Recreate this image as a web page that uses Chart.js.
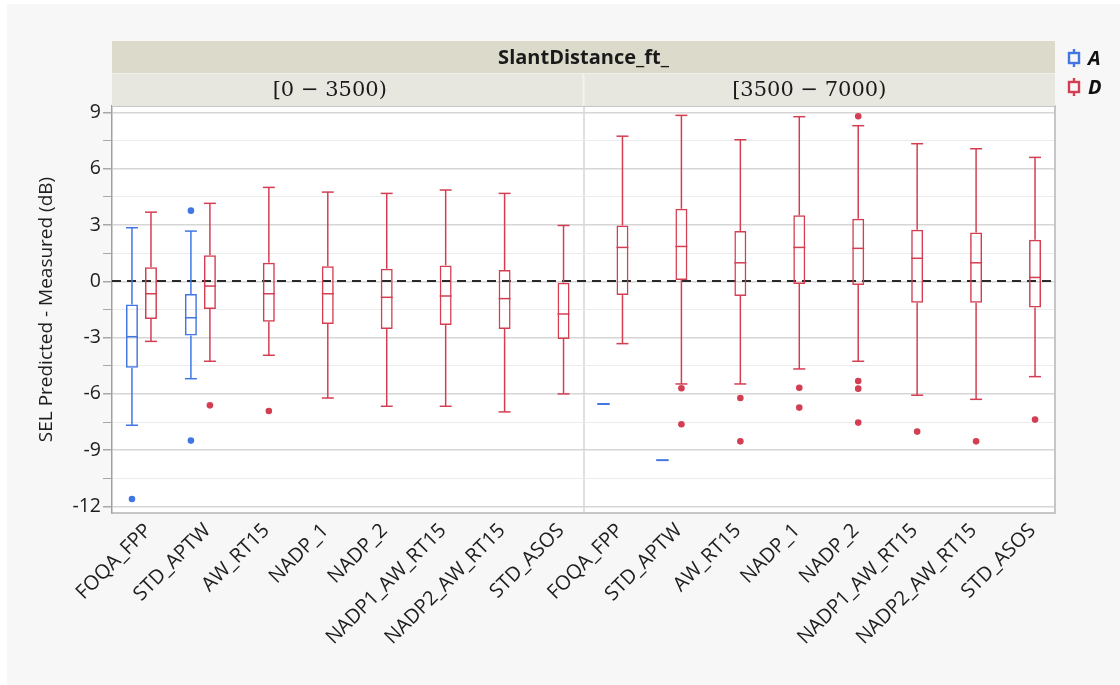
<!DOCTYPE html>
<html><head><meta charset="utf-8">
<script src="https://cdn.jsdelivr.net/npm/chart.js@4/dist/chart.umd.min.js"></script>
<style>html,body{margin:0;padding:0;background:#fff;}canvas{display:block}</style>
</head><body>
<canvas id="c" width="1120" height="685"></canvas>
<script>
// ---------- data ----------
const groupTitle = 'SlantDistance_ft_';
const panels = ['[0 \u2212 3500)', '[3500 \u2212 7000)'];
const methods = ['FOQA_FPP','STD_APTW','AW_RT15','NADP_1','NADP_2','NADP1_AW_RT15','NADP2_AW_RT15','STD_ASOS'];
const seriesNames = ['A','D'];
const yTicks = [-12,-9,-6,-3,0,3,6,9];
const yTitle = 'SEL Predicted - Measured (dB)';

// series A (16 slots: 8 methods x 2 panels)
const aMin = [-7.67,-5.19,null,null,null,null,null,null, -6.54,-9.54,null,null,null,null,null,null];
const aQ1  = [-4.60,-2.88,null,null,null,null,null,null, -6.54,-9.54,null,null,null,null,null,null];
const aMed = [-2.95,-1.94,null,null,null,null,null,null, -6.54,-9.54,null,null,null,null,null,null];
const aQ3  = [-1.23,-0.67,null,null,null,null,null,null, -6.54,-9.54,null,null,null,null,null,null];
const aMax = [ 2.86, 2.68,null,null,null,null,null,null, -6.54,-9.54,null,null,null,null,null,null];
const aOut = [[-11.6],[3.77,-8.49],[],[],[],[],[],[], [],[],[],[],[],[],[],[]];

// series D
const dMin = [-3.20,-4.26,-3.94,-6.22,-6.66,-6.66,-6.96,-6.00, -3.32,-5.47,-5.47,-4.67,-4.26,-6.07,-6.29,-5.08];
const dQ1  = [-2.01,-1.47,-2.15,-2.27,-2.54,-2.33,-2.54,-3.07, -0.73, 0.07,-0.78,-0.14,-0.20,-1.14,-1.14,-1.39];
const dMed = [-0.66,-0.25,-0.66,-0.66,-0.85,-0.78,-0.92,-1.74,  1.81, 1.86, 0.99, 1.81, 1.76, 1.23, 0.99, 0.21];
const dQ3  = [ 0.75, 1.39, 0.99, 0.80, 0.67, 0.85, 0.60,-0.07,  2.98, 3.87, 2.68, 3.52, 3.34, 2.75, 2.61, 2.22];
const dMax = [ 3.69, 4.16, 5.01, 4.76, 4.69, 4.87, 4.69, 2.98,  7.74, 8.85, 7.55, 8.78, 8.30, 7.34, 7.07, 6.61];
const dOut = [[],[-6.61],[-6.91],[],[],[],[],[], [],[-5.70,-7.62],[-6.22,-8.53],[-5.67,-6.73],[-5.31,-5.72,-7.53,8.80],[-8.01],[-8.53],[-7.37]];

// ---------- styles ----------
const BLUE = 'rgb(66,118,226)';
const RED  = 'rgb(212,62,82)';
const FONT = '"Open Sans", "Noto Sans", sans-serif';

const labels = panels.flatMap(() => methods);
const stats = [
  {min:aMin,q1:aQ1,med:aMed,q3:aQ3,max:aMax,out:aOut,color:BLUE},
  {min:dMin,q1:dQ1,med:dMed,q3:dQ3,max:dMax,out:dOut,color:RED}
];

const boxPlugin = {
  id: 'boxPlugin',
  beforeDraw(chart) {
    const {ctx, chartArea:a} = chart;
    ctx.save();
    ctx.fillStyle = '#ffffff';
    ctx.fillRect(0,0,chart.width,chart.height);
    ctx.fillStyle = '#f7f7f7';
    ctx.fillRect(7,4,chart.width-7,chart.height-4);
    ctx.fillStyle = '#ffffff';
    ctx.fillRect(a.left,a.top,a.right-a.left,a.bottom-a.top);
    ctx.restore();
  },
  beforeDatasetsDraw(chart) {
    const {ctx, chartArea:a, scales:{y}} = chart;
    ctx.save();
    ctx.strokeStyle = '#2a2a2a';
    ctx.lineWidth = 2;
    ctx.setLineDash([9,6]);
    const y0 = Math.round(y.getPixelForValue(0));
    ctx.beginPath(); ctx.moveTo(a.left, y0); ctx.lineTo(a.right, y0); ctx.stroke();
    ctx.restore();
  },
  afterDatasetsDraw(chart) {
    const {ctx, scales:{y}} = chart;
    ctx.save();
    const line = (x1,y1,x2,y2) => { ctx.beginPath(); ctx.moveTo(x1,y1); ctx.lineTo(x2,y2); ctx.stroke(); };
    stats.forEach((s, di) => {
      const meta = chart.getDatasetMeta(di);
      meta.data.forEach((bar, i) => {
        if (s.med[i] == null) return;
        const x = bar.x, w = bar.width, h = w/2;
        ctx.strokeStyle = s.color; ctx.fillStyle = s.color; ctx.lineWidth = 1.5;
        const yMax = y.getPixelForValue(s.max[i]), yMin = y.getPixelForValue(s.min[i]);
        const yQ1 = y.getPixelForValue(s.q1[i]), yQ3 = y.getPixelForValue(s.q3[i]);
        const yMed = y.getPixelForValue(s.med[i]);
        line(x, yQ3, x, yMax); line(x, yQ1, x, yMin);
        line(x-h, yMax, x+h, yMax); line(x-h, yMin, x+h, yMin);
        line(x-h, yMed, x+h, yMed);
        s.out[i].forEach(v => {
          ctx.beginPath(); ctx.arc(x, y.getPixelForValue(v), 3.3, 0, Math.PI*2); ctx.fill();
        });
      });
    });
    ctx.restore();
  },
  afterDraw(chart) {
    const {ctx, chartArea:a, scales:{x}} = chart;
    ctx.save();
    // plot border
    ctx.strokeStyle = '#c6c6c6'; ctx.lineWidth = 2;
    ctx.beginPath(); ctx.moveTo(a.left, a.top); ctx.lineTo(a.right, a.top); ctx.lineTo(a.right, a.bottom); ctx.stroke();
    // header bands
    const top1 = 41, top2 = 73, bot = a.top;
    ctx.fillStyle = '#dbdacb';
    ctx.fillRect(a.left, top1, a.right-a.left, top2-top1);
    ctx.fillStyle = '#e7e7df';
    ctx.fillRect(a.left, top2, a.right-a.left, bot-top2);
    const n = methods.length;
    const mid = (x.getPixelForValue(n-1) + x.getPixelForValue(n)) / 2;
    ctx.strokeStyle = '#f4f4ef'; ctx.lineWidth = 2;
    ctx.beginPath(); ctx.moveTo(mid, top2); ctx.lineTo(mid, bot); ctx.stroke();
    ctx.strokeStyle = '#f0f0ea'; ctx.lineWidth = 1;
    ctx.beginPath(); ctx.moveTo(a.left, top2+0.5); ctx.lineTo(a.right, top2+0.5); ctx.stroke();
    ctx.fillStyle = '#1a1a1a';
    ctx.textAlign = 'center'; ctx.textBaseline = 'middle';
    ctx.font = 'bold 20px ' + FONT;
    ctx.fillText(groupTitle, (a.left+a.right)/2, (top1+top2)/2 + 1);
    ctx.font = '21px "DejaVu Serif", "Liberation Serif", serif';
    ctx.fillText(panels[0], (a.left+mid)/2 - 18, (top2+bot)/2 + 1);
    ctx.fillText(panels[1], (mid+a.right)/2 - 10, (top2+bot)/2 + 1);
    // legend
    const lx = 1074, ly = [58, 87];
    seriesNames.forEach((name, k) => {
      const c = stats[k].color, cy = ly[k];
      ctx.strokeStyle = c; ctx.lineWidth = 2.4;
      ctx.strokeRect(lx-5, cy-5, 10, 10);
      ctx.beginPath(); ctx.moveTo(lx, cy-9); ctx.lineTo(lx, cy-5); ctx.moveTo(lx, cy+5); ctx.lineTo(lx, cy+9); ctx.stroke();
      ctx.fillStyle = '#111';
      ctx.textAlign = 'left';
      ctx.font = 'italic bold 20px ' + FONT;
      ctx.fillText(name, lx+14, cy+1);
    });
    ctx.restore();
  }
};

new Chart(document.getElementById('c'), {
  type: 'bar',
  data: {
    labels,
    datasets: stats.map((s, k) => ({
      label: seriesNames[k],
      data: s.q1.map((q, i) => q == null ? null : [q, s.q3[i]]),
      borderColor: s.color,
      backgroundColor: 'rgba(0,0,0,0)',
      borderWidth: 1.5,
      borderSkipped: false,
      categoryPercentage: 0.645,
      barPercentage: 0.63
    }))
  },
  options: {
    responsive: false,
    devicePixelRatio: 1,
    animation: false,
    layout: { padding: { left: 7, right: 65, top: 106, bottom: 20 } },
    plugins: { legend: { display: false }, tooltip: { enabled: false } },
    scales: {
      x: {
        type: 'category',
        grid: {
          offset: true,
          drawTicks: false,
          color: ctx => ctx.index === methods.length ? '#e0e0e0' : 'rgba(0,0,0,0)',
          lineWidth: 2
        },
        border: { display: true, color: '#c6c6c6', width: 2 },
        ticks: {
          autoSkip: false, maxRotation: 45, minRotation: 45, labelOffset: 7,
          font: { family: FONT, size: 20 }, color: '#1e1e1e', padding: 6
        },
        afterFit: s => { s.height = 152; }
      },
      y: {
        min: -12.35, max: 9.35,
        afterBuildTicks: s => {
          const t = [];
          yTicks.forEach((v, i) => {
            t.push({value: v});
            if (i < yTicks.length - 1) t.push({value: (v + yTicks[i+1]) / 2});
          });
          if (yTicks.length > 1) t.push({value: yTicks[yTicks.length-1] + (yTicks[1]-yTicks[0])/2});
          s.ticks = t.filter(o => o.value >= s.min && o.value <= s.max);
        },
        ticks: {
          callback: v => yTicks.includes(v) ? String(v) : '',
          font: { family: FONT, size: 19.5 }, color: '#1e1e1e', padding: 2
        },
        grid: {
          color: ctx => yTicks.includes(ctx.tick && ctx.tick.value) ? '#d6d6d6' : '#ececec',
          lineWidth: ctx => yTicks.includes(ctx.tick && ctx.tick.value) ? 1.5 : 1,
          tickColor: '#a8a8a8', tickLength: 9
        },
        border: { display: true, color: '#a0a0a0', width: 1.5 },
        title: {
          display: true, text: yTitle,
          font: { family: FONT, size: 19 }, color: '#1e1e1e',
          padding: { top: 28, bottom: 0 }
        },
        afterFit: s => { s.width = 105; }
      }
    }
  },
  plugins: [boxPlugin]
});
</script>
</body></html>
